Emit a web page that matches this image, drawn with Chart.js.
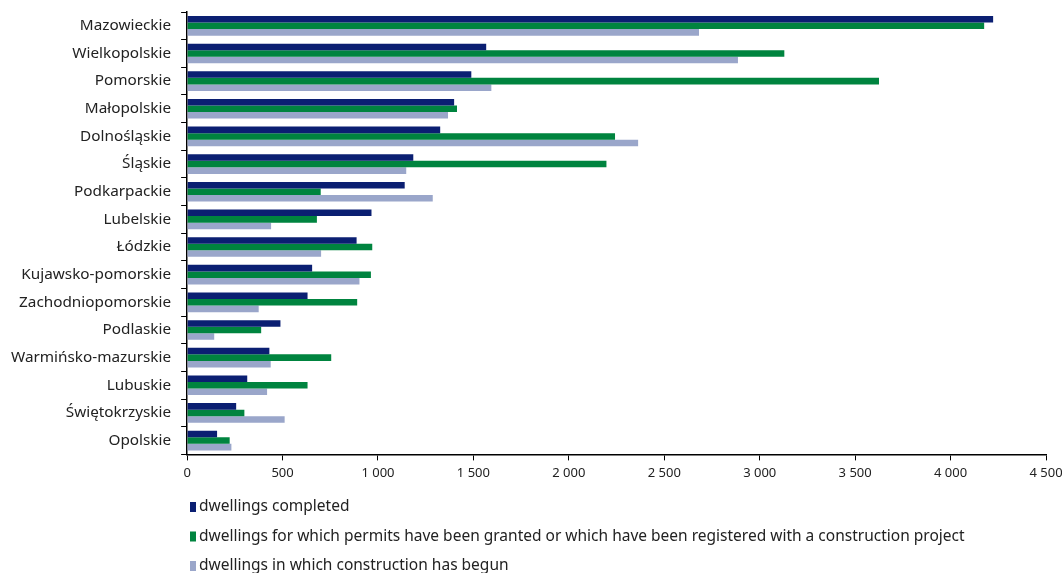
<!DOCTYPE html>
<html>
<head>
<meta charset="utf-8">
<script src="https://cdn.jsdelivr.net/npm/chart.js@4"></script>
<style>
  html, body { margin: 0; padding: 0; background: #fff; }
  #wrap { width: 1062px; height: 573px; }
</style>
</head>
<body>
<div id="wrap"><canvas id="chart-dwellings"></canvas></div>
<script>
var regions = ["Mazowieckie", "Wielkopolskie", "Pomorskie", "Małopolskie", "Dolnośląskie", "Śląskie",
  "Podkarpackie", "Lubelskie", "Łódzkie", "Kujawsko-pomorskie", "Zachodniopomorskie", "Podlaskie",
  "Warmińsko-mazurskie", "Lubuskie", "Świętokrzyskie", "Opolskie"];

var completed = [4223, 1567, 1489, 1399, 1326, 1185, 1140, 966, 888, 655, 631, 489, 431, 315, 257, 157];
var permits   = [4176, 3129, 3625, 1414, 2242, 2197, 700, 680, 970, 963, 891, 388, 755, 631, 300, 223];
var started   = [2682, 2886, 1594, 1367, 2363, 1148, 1287, 440, 702, 903, 375, 142, 438, 419, 511, 232];

var seriesNames = ["dwellings completed",
  "dwellings for which permits have been granted or which have been registered with a construction project",
  "dwellings in which construction has begun"];

var FONT = "'Noto Sans', sans-serif";

// legend drawn as a vertical list under the axis
var listLegend = {
  id: 'listLegend',
  afterDraw: function(chart) {
    var ctx = chart.ctx;
    ctx.save();
    ctx.font = "15.5px " + FONT;
    ctx.textBaseline = "middle";
    chart.data.datasets.forEach(function(ds, i) {
      var y = 507 + i * 29.5;
      ctx.fillStyle = ds.backgroundColor;
      ctx.fillRect(190, y - 5, 6, 10);
      ctx.fillStyle = "#222";
      ctx.fillText(ds.label, 199, y);
    });
    ctx.restore();
  }
};

function formatThousands(v) {
  return String(v).replace(/\B(?=(\d{3})+(?!\d))/g, " ");
}

var ctx = document.getElementById("chart-dwellings").getContext("2d");
var chart = new Chart(ctx, {
  type: "bar",
  data: {
    labels: regions,
    datasets: [{
      label: seriesNames[0],
      data: completed,
      backgroundColor: "#0b1f72"
    },
    {
      label: seriesNames[1],
      data: permits,
      backgroundColor: "#00843f"
    },
    {
      label: seriesNames[2],
      data: started,
      backgroundColor: "#9aa6ca"
    }]
  },
  options: {
    indexAxis: 'y',
    responsive: true,
    maintainAspectRatio: false,
    animation: false,
    categoryPercentage: 0.71,
    barPercentage: 1.0,
    layout: {
      padding: { top: 12, right: 0, bottom: 87, left: 1 }
    },
    plugins: {
      legend: { display: false },
      tooltip: { enabled: false }
    },
    scales: {
      x: {
        min: 0,
        max: 4500,
        afterFit: function(scale) {
          scale.paddingLeft = 0;
          scale.paddingRight = 16;
        },
        ticks: {
          stepSize: 500,
          color: "#222",
          font: { family: FONT, size: 13 },
          padding: 5,
          maxRotation: 0,
          callback: function(v) { return formatThousands(v); }
        },
        grid: {
          drawOnChartArea: false,
          drawTicks: true,
          tickLength: 6,
          color: "#000"
        },
        border: { color: "#000", width: 1.5 }
      },
      y: {
        afterFit: function(scale) {
          scale.paddingTop = 0;
          scale.paddingBottom = 0;
        },
        ticks: {
          color: "#222",
          font: { family: FONT, size: 15.3 },
          padding: 10
        },
        grid: {
          drawOnChartArea: false,
          drawTicks: true,
          tickLength: 6,
          color: "#000"
        },
        border: { color: "#000", width: 1.5 }
      }
    }
  },
  plugins: [listLegend]
});
</script>
</body>
</html>
